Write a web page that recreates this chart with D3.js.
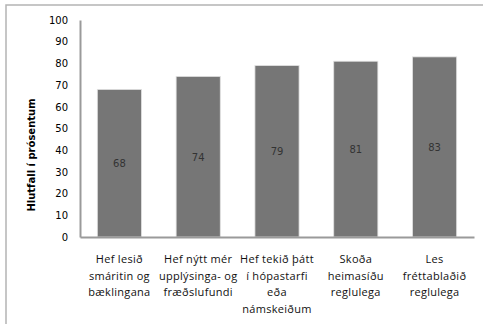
<!DOCTYPE html>
<html>
<head>
<meta charset="utf-8">
<script src="https://cdn.jsdelivr.net/npm/d3@7"></script>
<style>
body { margin: 0; background: #fff; }
svg { display: block; }
</style>
</head>
<body>
<svg id="chart" width="483" height="324"></svg>
<script>
// chart data
var categories = [
	["Hef lesið", "smáritin og", "bæklingana"],
	["Hef nýtt mér", "upplýsinga- og", "fræðslufundi"],
	["Hef tekið þátt", "í hópastarfi", "eða", "námskeiðum"],
	["Skoða", "heimasíðu", "reglulega"],
	["Les", "fréttablaðið", "reglulega"]
];
var values = [68, 74, 79, 81, 83];
var yTicks = [0, 10, 20, 30, 40, 50, 60, 70, 80, 90, 100];
var yTitle = "Hlutfall í prósentum";

var svg = d3.select("#chart");

// outer frame
svg.append("rect")
	.attr("x", 6).attr("y", 5)
	.attr("width", 490).attr("height", 340)
	.attr("fill", "none")
	.attr("stroke", "#b4b4b4")
	.attr("stroke-width", 1.5);

var pLeft = 80, pRight = 474, pTop = 20, pBottom = 237;

var x = d3.scaleBand()
	.domain(d3.range(values.length))
	.range([pLeft, pRight])
	.paddingInner(0.44)
	.paddingOuter(0.22);

var y = d3.scaleLinear()
	.domain([0, 100])
	.range([pBottom, pTop]);

// bars
svg.selectAll("rect.bar")
	.data(values)
	.enter()
	.append("rect")
	.attr("class", "bar")
	.attr("x", function(d, i) { return x(i); })
	.attr("y", function(d) { return y(d); })
	.attr("width", x.bandwidth())
	.attr("height", function(d) { return y(0) - y(d); })
	.attr("fill", "#767676")
	.attr("stroke", "#e0e0e0")
	.attr("stroke-width", 0.8);

// value labels
svg.selectAll("text.val")
	.data(values)
	.enter()
	.append("text")
	.attr("class", "val")
	.attr("x", function(d, i) { return x(i) + x.bandwidth() / 2; })
	.attr("y", function(d) { return (y(d) + y(0)) / 2 + 4; })
	.attr("text-anchor", "middle")
	.style("font-family", "DejaVu Sans")
	.style("font-size", "10px")
	.style("fill", "#333")
	.text(function(d) { return d; });

// y axis
var yAxis = svg.append("g")
	.attr("transform", "translate(" + pLeft + ",0)")
	.call(d3.axisLeft(y).tickValues(yTicks).tickSize(0).tickPadding(12));
yAxis.select(".domain").attr("stroke", "#9a9a9a").attr("stroke-width", 2);
yAxis.selectAll("text")
	.style("font-family", "DejaVu Sans")
	.style("font-size", "10px")
	.style("fill", "#000");

// x axis
var xAxis = svg.append("g")
	.attr("transform", "translate(0," + pBottom + ")")
	.call(d3.axisBottom(x).tickSize(0).tickFormat(""));
xAxis.select(".domain").attr("stroke", "#9a9a9a").attr("stroke-width", 2);

// category labels
var cat = svg.selectAll("text.cat")
	.data(categories)
	.enter()
	.append("text")
	.attr("class", "cat")
	.attr("text-anchor", "middle")
	.style("font-family", "Open Sans")
	.style("font-size", "11px")
	.style("letter-spacing", "0.3px")
	.style("fill", "#111");
cat.selectAll("tspan")
	.data(function(d, i) { return d.map(function(s) { return { s: s, i: i }; }); })
	.enter()
	.append("tspan")
	.attr("x", function(d) { return x(d.i) + x.bandwidth() / 2; })
	.attr("y", function(d, j) { return 263 + j * 16.5; })
	.text(function(d) { return d.s; });

// y title
svg.append("text")
	.attr("transform", "translate(35,155) rotate(-90)")
	.attr("text-anchor", "middle")
	.style("font-family", "DejaVu Sans")
	.style("font-weight", "bold")
	.style("font-size", "10px")
	.style("fill", "#000")
	.text(yTitle);
</script>
</body>
</html>
